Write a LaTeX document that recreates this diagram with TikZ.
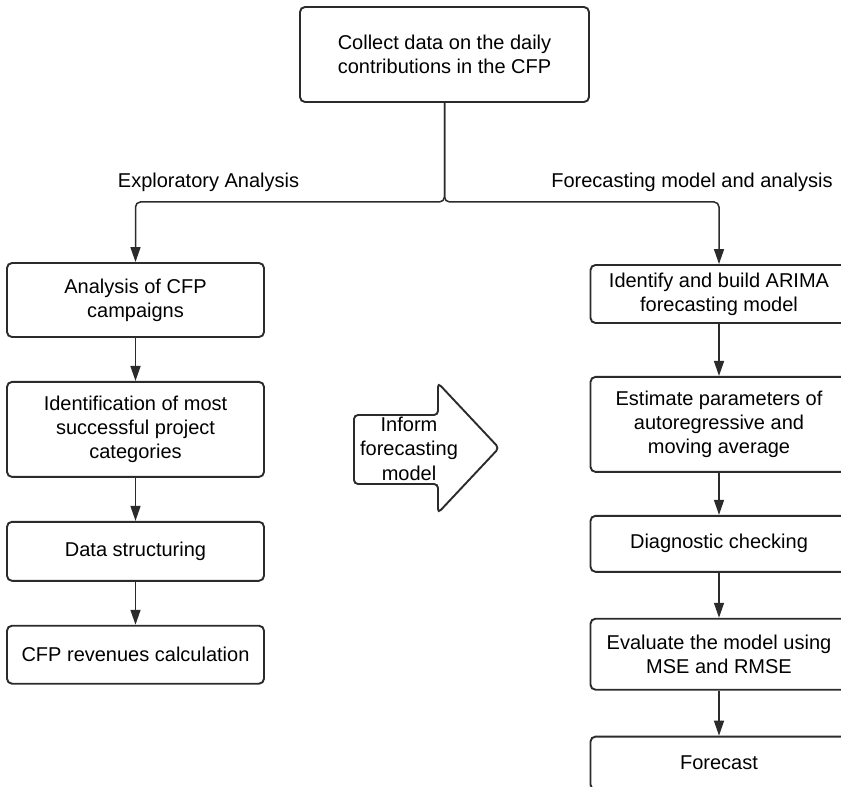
\documentclass[tikz,border=0pt]{standalone}
\usepackage{fontspec}
\setmainfont{Liberation Sans}
\usetikzlibrary{positioning, arrows.meta}
\usepackage{xcolor}
\definecolor{linegray}{HTML}{2B2B2B}

\begin{document}
\begin{tikzpicture}[
    x=1pt, y=1pt,
    node distance=43pt,
    box/.style={
        draw=linegray,
        line width=1.9pt,
        rounded corners=5pt,
        minimum width=257pt,
        align=center,
        inner sep=3pt,
        font=\fontsize{20}{24}\selectfont
    },
    arr/.style={
        -{Triangle[length=15pt,width=10pt]},
        draw=linegray,
        line width=1.5pt
    },
    lab/.style={
        font=\fontsize{20}{24}\selectfont
    }
]
\clip (0,0) rectangle (841,-787);

% Top box
\node[box, minimum width=289pt, minimum height=95pt] (collect) at (444.5,-54.5)
{Collect data on the daily\\contributions in the CFP};

% Left column
\node[box, minimum height=74pt] (campaigns) at (135.5,-300)
{Analysis of CFP\\campaigns};
\node[box, minimum height=95pt, below=of campaigns] (categories)
{Identification of most\\successful project\\categories};
\node[box, minimum height=59pt, below=of categories] (structuring)
{Data structuring};
\node[box, minimum height=58pt, below=of structuring] (revenues)
{CFP revenues calculation};

% Right column
\node[box, minimum height=58pt] (arima) at (719,-294)
{Identify and build ARIMA\\forecasting model};
\node[box, minimum height=95pt, below=52pt of arima] (estimate)
{Estimate parameters of\\autoregressive and\\moving average};
\node[box, minimum height=56pt, below=42pt of estimate] (diagnostic)
{Diagnostic checking};
\node[box, minimum height=71pt, below=45pt of diagnostic] (evaluate)
{Evaluate the model using\\MSE and RMSE};
\node[box, minimum height=53pt, below=45pt of evaluate] (forecast)
{Forecast};

% Branch labels
\node[lab] (explab) at (208.5,-182) {Exploratory Analysis};
\node[lab] (forelab) at (692,-182) {Forecasting model and analysis};

% Split from the top box
\draw[arr, rounded corners=5pt] (collect.south) -- ++(0,-99) -| (campaigns.north);
\draw[arr, rounded corners=5pt] (collect.south) -- ++(0,-99) -| (arima.north);

% Connections
\draw[arr] (campaigns) -- (categories);
\draw[arr] (categories) -- (structuring);
\draw[arr] (structuring) -- (revenues);
\draw[arr] (arima) -- (estimate);
\draw[arr] (estimate) -- (diagnostic);
\draw[arr] (diagnostic) -- (evaluate);
\draw[arr] (evaluate) -- (forecast);

% Big arrow in the middle
\draw[draw=linegray, line width=1.9pt, rounded corners=4pt]
(354,-415) -- (438,-415) -- (438,-383) -- (499,-448)
-- (438,-513) -- (438,-484) -- (354,-484) -- cycle;
\node[align=center, inner sep=0pt, font=\fontsize{20}{24.5}\selectfont] (inform) at (409,-448.5)
{Inform\\forecasting\\model};

\end{tikzpicture}
\end{document}
